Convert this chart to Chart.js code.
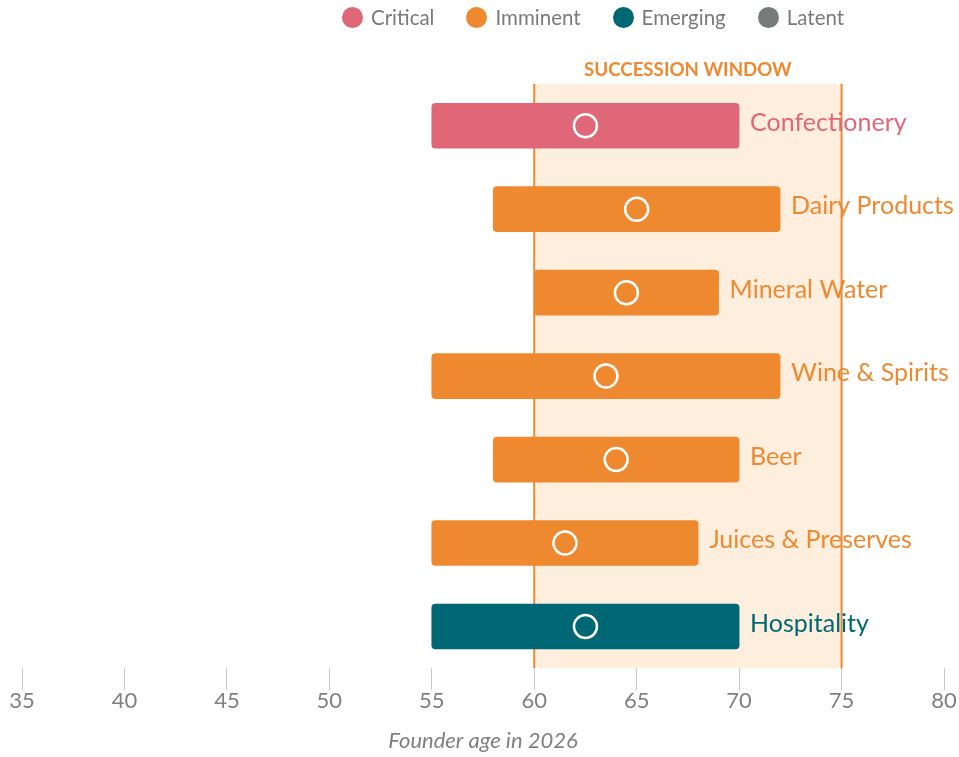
<!DOCTYPE html>
<html>
<head>
<meta charset="utf-8">
<script src="https://cdn.jsdelivr.net/npm/chart.js@4.4.1/dist/chart.umd.min.js"></script>
<style>
  body { margin: 0; background: #fff; font-family: Lato, "Noto Sans", sans-serif; }
  #wrap { position: relative; width: 959px; height: 757px; }
  #legend {
    position: absolute; top: 5px; left: 342px;
    display: flex; gap: 32px; font-size: 20.5px; color: #7a7a7a;
  }
  #legend span.item { display: flex; align-items: center; }
  #legend span.dot { width: 21px; height: 21px; border-radius: 50%; margin-right: 8px; display: inline-block; }
</style>
</head>
<body>
<div id="wrap">
  <div id="legend"></div>
  <canvas id="chart" width="959" height="757"></canvas>
</div>
<script>
const categories = ["Confectionery", "Dairy Products", "Mineral Water", "Wine & Spirits", "Beer", "Juices & Preserves", "Hospitality"];
const minAge = [55, 58, 60, 55, 58, 55, 55];
const maxAge = [70, 72, 69, 72, 70, 68, 70];
const meanAge = [62.5, 65, 64.5, 63.5, 64, 61.5, 62.5];
const categoryStatus = ["Critical", "Imminent", "Imminent", "Imminent", "Imminent", "Imminent", "Emerging"];

const statusNames = ["Critical", "Imminent", "Emerging", "Latent"];
const statusColors = ["#e06777", "#ef8930", "#006875", "#777a7a"];

const xMin = 35;
const xMax = 80;
const xStep = 5;
const successionWindow = [60, 75];

function colorFor(status) {
  return statusColors[statusNames.indexOf(status)];
}

// html legend
const legendEl = document.getElementById("legend");
statusNames.forEach((name, i) => {
  const item = document.createElement("span");
  item.className = "item";
  item.innerHTML = '<span class="dot" style="background:' + statusColors[i] + '"></span>' + name;
  legendEl.appendChild(item);
});

const barDatasets = statusNames.map((name, s) => ({
  label: name,
  data: categories.map((c, i) => (categoryStatus[i] === name ? [minAge[i], maxAge[i]] : null)),
  backgroundColor: statusColors[s],
  borderRadius: 4,
  borderSkipped: false,
  barThickness: 45,
  grouped: false,
  order: 2,
}));

const meanDataset = {
  type: "line",
  label: "mean",
  data: meanAge,
  showLine: false,
  pointRadius: 11.5,
  pointBorderWidth: 2.5,
  pointBorderColor: "#ffffff",
  pointBackgroundColor: "rgba(0,0,0,0)",
  order: 1,
};

const windowPlugin = {
  id: "successionWindow",
  beforeDatasetsDraw(chart) {
    const { ctx, chartArea, scales } = chart;
    const x1 = scales.x.getPixelForValue(successionWindow[0]);
    const x2 = scales.x.getPixelForValue(successionWindow[1]);
    ctx.save();
    ctx.fillStyle = "#fdeede";
    ctx.fillRect(x1, chartArea.top, x2 - x1, chartArea.bottom - chartArea.top);
    ctx.strokeStyle = "#ef8930";
    ctx.lineWidth = 2;
    [x1, x2].forEach((x) => {
      ctx.beginPath();
      ctx.moveTo(x, chartArea.top);
      ctx.lineTo(x, chartArea.bottom);
      ctx.stroke();
    });
    ctx.fillStyle = "#ef8930";
    ctx.font = "bold 18.7px Lato";
    ctx.textAlign = "center";
    ctx.textBaseline = "middle";
    ctx.fillText("SUCCESSION WINDOW", (x1 + x2) / 2, chartArea.top - 14);
    ctx.restore();
  },
};

const labelPlugin = {
  id: "endLabels",
  afterDatasetsDraw(chart) {
    const { ctx, scales } = chart;
    ctx.save();
    ctx.font = "25px Lato";
    ctx.textAlign = "left";
    ctx.textBaseline = "middle";
    categories.forEach((c, i) => {
      ctx.fillStyle = colorFor(categoryStatus[i]);
      ctx.fillText(c, scales.x.getPixelForValue(maxAge[i]) + 11, scales.y.getPixelForValue(i) - 3);
    });
    ctx.restore();
  },
};

new Chart(document.getElementById("chart"), {
  type: "bar",
  data: {
    labels: categories,
    datasets: [...barDatasets, meanDataset],
  },
  options: {
    indexAxis: "y",
    responsive: false,
    animation: false,
    layout: { padding: { top: 84, left: 22, right: 15, bottom: 3 } },
    plugins: {
      legend: { display: false },
      tooltip: { enabled: false },
    },
    scales: {
      x: {
        min: xMin,
        max: xMax,
        ticks: { stepSize: xStep, color: "#808080", font: { family: "Lato", size: 22 }, padding: -2 },
        grid: { drawOnChartArea: false, drawTicks: true, tickLength: 22, color: "#c8c8c8" },
        border: { display: false },
        title: {
          display: true,
          text: "Founder age in 2026",
          color: "#808080",
          font: { family: "Lato", size: 22, style: "italic" },
          padding: { top: 15, bottom: 0 },
        },
      },
      y: { display: false },
    },
  },
  plugins: [windowPlugin, labelPlugin],
});
</script>
</body>
</html>
